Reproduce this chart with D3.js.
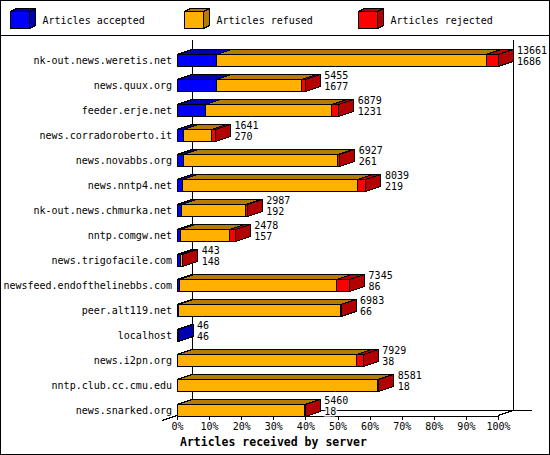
<!DOCTYPE html>
<html>
<head>
<meta charset="utf-8">
<script src="https://d3js.org/d3.v7.min.js"></script>
<style>
body { margin: 0; background: #fff; }
text { font-family: "DejaVu Sans Mono", "Liberation Mono", monospace; font-size: 10px; fill: #000; }
.title { font-weight: bold; font-size: 11.5px; }
.face { stroke: #000; stroke-width: 1; shape-rendering: crispEdges; }
.axisline { stroke: #000; stroke-width: 1; shape-rendering: crispEdges; fill: none; }
</style>
</head>
<body>
<svg width="550" height="455"></svg>
<script>
// servers feeding us, top to bottom
var hosts = ['nk-out.news.weretis.net', 'news.quux.org', 'feeder.erje.net',
    'news.corradoroberto.it', 'news.novabbs.org', 'news.nntp4.net',
    'nk-out.news.chmurka.net', 'nntp.comgw.net', 'news.trigofacile.com',
    'newsfeed.endofthelinebbs.com', 'peer.alt119.net', 'localhost',
    'news.i2pn.org', 'nntp.club.cc.cmu.edu', 'news.snarked.org'];

// numbers printed next to each bar
var received = [13661, 5455, 6879, 1641, 6927, 8039, 2987, 2478, 443, 7345, 6983, 46, 7929, 8581, 5460];
var accepted = [1686, 1677, 1231, 270, 261, 219, 192, 157, 148, 86, 66, 46, 38, 18, 18];
// the other two parts
var refused = [11465, 3621, 5363, 1201, 6576, 7465, 2735, 2081, 90, 6719, 6887, 0, 7611, 8523, 5422];
var rejected = [510, 157, 285, 170, 90, 355, 60, 240, 8, 540, 30, 0, 280, 40, 20];

var seriesNames = ['Articles accepted', 'Articles refused', 'Articles rejected'];
var seriesColors = ['#0000ff', '#ffb000', '#ff0000'];
var tickValues = [0, 0.1, 0.2, 0.3, 0.4, 0.5, 0.6, 0.7, 0.8, 0.9, 1];

var svg = d3.select('svg');
var W = +svg.attr('width'), H = +svg.attr('height');

// 3d depth of the bars
var dx = 15, dy = 5;
var barH = 12;

var rows = hosts.map(function(h, i) {
    return {host: h, received: received[i], accepted: accepted[i],
        parts: [accepted[i], refused[i], rejected[i]]};
});
rows.forEach(function(r) { r.total = d3.sum(r.parts); });

var x = d3.scaleLinear()
    .domain([0, d3.max(rows, function(r) { return r.total; })])
    .range([177, 498]);
var pct = d3.scaleLinear().domain([0, 1]).range(x.range());
var y = d3.scaleBand().domain(hosts).range([47, 422]);

var frontBottom = 415.5;
var backBottom = frontBottom - dy;

function darker(c) {
    return d3.rgb(c).darker(1.0).formatHex();
}

// outer frame and legend separator
svg.append('rect').attr('x', 0.5).attr('y', 0.5)
    .attr('width', W - 1).attr('height', H - 1)
    .attr('fill', 'none').attr('class', 'axisline');
svg.append('line').attr('class', 'axisline')
    .attr('x1', 0).attr('x2', W).attr('y1', 35.5).attr('y2', 35.5);

// legend with little cubes
var legend = svg.selectAll('.legend')
    .data(seriesNames)
    .enter().append('g')
    .attr('class', 'legend')
    .attr('transform', function(d, i) { return 'translate(' + [10.5 + i * 174, 11.5] + ')'; });

legend.each(function(d, i) {
    var g = d3.select(this);
    var w = 19, h = 17, ldx = 6, ldy = 3;
    g.append('polygon').attr('class', 'face')
        .attr('fill', darker(seriesColors[i]))
        .attr('points', [[0, 0], [w, 0], [w + ldx, -ldy], [ldx, -ldy]].join(' '));
    g.append('polygon').attr('class', 'face')
        .attr('fill', darker(seriesColors[i]))
        .attr('points', [[w, 0], [w, h], [w + ldx, h - ldy], [w + ldx, -ldy]].join(' '));
    g.append('rect').attr('class', 'face')
        .attr('width', w).attr('height', h)
        .attr('fill', seriesColors[i]);
    g.append('text').attr('x', 32).attr('y', 12.5).text(d);
});

// back plane axes
svg.append('line').attr('class', 'axisline')
    .attr('x1', x(0) + dx).attr('x2', x(0) + dx)
    .attr('y1', 40).attr('y2', backBottom);
svg.append('line').attr('class', 'axisline')
    .attr('x1', pct(1) + dx).attr('x2', pct(1) + dx)
    .attr('y1', 40).attr('y2', backBottom);
svg.append('line').attr('class', 'axisline')
    .attr('x1', x(0) + dx).attr('x2', pct(1) + dx + 19)
    .attr('y1', backBottom).attr('y2', backBottom);
// floor edges
svg.append('line').attr('class', 'axisline')
    .attr('x1', x(0) - dx).attr('y1', frontBottom + dy)
    .attr('x2', x(0) + dx).attr('y2', backBottom);
svg.append('line').attr('class', 'axisline')
    .attr('x1', pct(1)).attr('y1', frontBottom)
    .attr('x2', pct(1) + dx).attr('y2', backBottom);

// front x axis
var xAxis = d3.axisBottom(pct)
    .tickValues(tickValues)
    .tickSize(4)
    .tickSizeOuter(0)
    .tickFormat(d3.format('.0%'));
var axisG = svg.append('g')
    .attr('transform', 'translate(0,' + frontBottom + ')')
    .call(xAxis);
axisG.select('.domain').attr('stroke', '#000').attr('shape-rendering', 'crispEdges');
axisG.selectAll('.tick line').attr('stroke', '#000').attr('shape-rendering', 'crispEdges');
axisG.selectAll('.tick text')
    .attr('font-family', '"DejaVu Sans Mono", monospace')
    .attr('font-size', '10px')
    .attr('fill', '#000');

svg.append('text')
    .attr('class', 'title')
    .attr('x', 180).attr('y', 446)
    .text('Articles received by server');

// bars, each part drawn as a box from left to right
var barG = svg.selectAll('.bar')
    .data(rows)
    .enter().append('g')
    .attr('class', 'bar');

barG.each(function(r) {
    var g = d3.select(this);
    var top = Math.round(y(r.host) + 6.5) + 0.5;
    var bot = top + barH;
    var start = 0;
    r.parts.forEach(function(v, k) {
        if (v <= 0) return;
        var x0 = x(start), x1 = x(start + v);
        start += v;
        var c = seriesColors[k], dc = darker(c);
        g.append('polygon').attr('class', 'face').attr('fill', dc)
            .attr('points', [[x0, top], [x1, top], [x1 + dx, top - dy], [x0 + dx, top - dy]].join(' '));
        g.append('polygon').attr('class', 'face').attr('fill', dc)
            .attr('points', [[x1, top], [x1, bot], [x1 + dx, bot - dy], [x1 + dx, top - dy]].join(' '));
        g.append('rect').attr('class', 'face').attr('fill', c)
            .attr('x', x0).attr('y', top)
            .attr('width', x1 - x0).attr('height', barH);
    });
});

// host names
svg.selectAll('.host')
    .data(rows)
    .enter().append('text')
    .attr('class', 'host')
    .attr('x', 172)
    .attr('y', function(r) { return y(r.host) + y.bandwidth() / 2 + 4; })
    .attr('text-anchor', 'end')
    .text(function(r) { return r.host; });

// received / accepted numbers
var vals = svg.selectAll('.val')
    .data(rows)
    .enter().append('g')
    .attr('class', 'val')
    .attr('transform', function(r) {
        return 'translate(' + [x(r.total) + dx + 4, y(r.host) + y.bandwidth() / 2] + ')';
    });
vals.append('text').attr('y', -5.5)
    .attr('stroke', '#fff').attr('stroke-width', 3).attr('paint-order', 'stroke')
    .text(function(r) { return r.received; });
vals.append('text').attr('y', 5.5)
    .attr('stroke', '#fff').attr('stroke-width', 3).attr('paint-order', 'stroke')
    .text(function(r) { return r.accepted; });
</script>
</body>
</html>
